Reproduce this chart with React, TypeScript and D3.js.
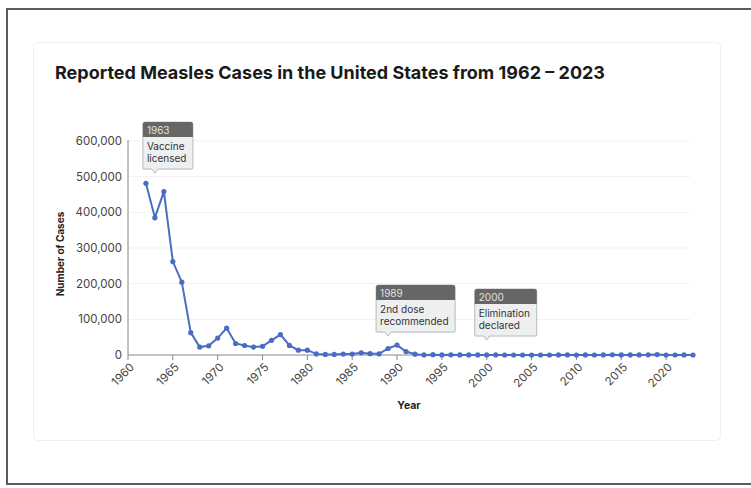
import { useMemo } from "react";
import * as d3 from "d3";

const YEARS = d3.range(1962, 2024);
const CASES = [
  481530, 385156, 458083, 261904, 204136, 62705, 22231, 25826, 47351, 75290,
  32275, 26690, 22094, 24374, 41126, 57345, 26871, 13597, 13506, 3124,
  1714, 1497, 2587, 2822, 6282, 3655, 3396, 18193, 27786, 9643,
  2237, 312, 963, 309, 508, 138, 100, 100, 86, 116,
  44, 56, 37, 66, 55, 43, 140, 71, 63, 220,
  55, 187, 667, 188, 86, 120, 375, 1274, 13, 49,
  121, 59,
];
const X_TICKS = d3.range(1960, 2021, 5);
const Y_TICKS = [0, 100000, 200000, 300000, 400000, 500000, 600000];

const NOTE_YEARS = [1963, 1989, 2000];
const NOTE_VALUES = [510000, 53000, 42000];
const NOTE_LINES = [
  ["Vaccine", "licensed"],
  ["2nd dose", "recommended"],
  ["Elimination", "declared"],
];

const FONT = "Inter, 'Noto Sans', sans-serif";
const W = 751;
const H = 488;
const M = { left: 128, right: 693, top: 141, bottom: 355 };
const LINE_COLOR = "#4a6cc4";

function measure(text: string, font: string): number {
  const c = document.createElement("canvas").getContext("2d");
  if (!c) return text.length * 5.5;
  c.font = font;
  return c.measureText(text).width;
}

export default function App() {
  const x = useMemo(() => d3.scaleLinear().domain([1960, 2023]).range([M.left, M.right]), []);
  const y = useMemo(() => d3.scaleLinear().domain([0, 600000]).range([M.bottom, M.top]), []);
  const fmt = d3.format(",");

  const points = YEARS.map((yr, i) => ({ yr, v: CASES[i] }));
  const line = d3
    .line<{ yr: number; v: number }>()
    .x((d) => x(d.yr))
    .y((d) => y(d.v));

  return (
    <div style={{ position: "fixed", left: 0, top: 0, width: W, height: H, overflow: "hidden" }}>
      <svg width={W} height={H} style={{ display: "block", background: "#fff" }}>
        {/* outer frame */}
        <path d={`M${W + 2},9 H7 V484 H${W + 2}`} fill="none" stroke="#5a5a5a" strokeWidth={2} />

        {/* card */}
        <rect x={33.5} y={42.5} width={687} height={398} rx={4} fill="#fff" stroke="#eef0f2" />

        <text x={55} y={79} fontFamily={FONT} fontSize={18} fontWeight={700} fill="#1a1a1a">
          Reported Measles Cases in the United States from 1962 – 2023
        </text>

        {/* grid */}
        {Y_TICKS.slice(1).map((t) => (
          <line key={t} x1={M.left} x2={M.right - 3} y1={y(t)} y2={y(t)} stroke="#f1f1f1" />
        ))}

        {/* y axis */}
        <line x1={M.left} x2={M.left} y1={M.top - 1} y2={M.bottom} stroke="#888" />
        {Y_TICKS.map((t) => (
          <text
            key={t}
            x={M.left - 6}
            y={y(t)}
            dy="0.35em"
            textAnchor="end"
            fontFamily={FONT}
            fontSize={11.5}
            fill="#444"
          >
            {fmt(t)}
          </text>
        ))}
        <text
          transform={`translate(64,${(M.top + M.bottom) / 2 + 6}) rotate(-90)`}
          textAnchor="middle"
          fontFamily={FONT}
          fontSize={10}
          fontWeight={700}
          fill="#222"
        >
          Number of Cases
        </text>

        {/* x axis */}
        <line x1={M.left} x2={M.right} y1={M.bottom} y2={M.bottom} stroke="#888" />
        {X_TICKS.map((t) => (
          <g key={t} transform={`translate(${x(t)},${M.bottom})`}>
            <line y1={0} y2={5} stroke="#888" />
            <text
              transform="translate(4,10) rotate(-45)"
              textAnchor="end"
              dy="0.35em"
              fontFamily={FONT}
              fontSize={11.5}
              fill="#444"
            >
              {t}
            </text>
          </g>
        ))}
        <text x={409} y={409} textAnchor="middle" fontFamily={FONT} fontSize={10.5} fontWeight={700} fill="#222">
          Year
        </text>

        {/* series */}
        <path d={line(points) ?? ""} fill="none" stroke={LINE_COLOR} strokeWidth={2} />
        {points.map((d) => (
          <circle key={d.yr} cx={x(d.yr)} cy={y(d.v)} r={2.6} fill={LINE_COLOR} />
        ))}

        {/* annotations */}
        {NOTE_YEARS.map((yr, i) => {
          const tx = x(yr);
          const ty = y(NOTE_VALUES[i]);
          const lines = NOTE_LINES[i];
          const bodyFont = `10px ${FONT}`;
          const w = Math.ceil(Math.max(...lines.map((l) => measure(l, bodyFont)), measure(String(yr), bodyFont))) + 10;
          const h = 47;
          const left = tx - 12;
          const top = ty - 4 - h;
          return (
            <g key={yr}>
              <path
                d={`M${left},${top + 2} Q${left},${top} ${left + 2},${top} H${left + w - 2} Q${left + w},${top} ${left + w},${top + 2} V${top + h - 1} Q${left + w},${top + h} ${left + w - 1},${top + h} H${tx + 3} L${tx},${ty} L${tx - 3},${top + h} H${left + 1} Q${left},${top + h} ${left},${top + h - 1} Z`}
                fill="#eeeff0"
                stroke="#b8b8b8"
                strokeWidth={1}
              />
              <path
                d={`M${left},${top + 15} V${top + 2} Q${left},${top} ${left + 2},${top} H${left + w - 2} Q${left + w},${top} ${left + w},${top + 2} V${top + 15} Z`}
                fill="#666"
              />
              <text x={left + 4} y={top + 11.5} fontFamily={FONT} fontSize={10} fill="#e0e0e0">
                {yr}
              </text>
              {lines.map((l, j) => (
                <text key={j} x={left + 4} y={top + 28 + j * 12} fontFamily={FONT} fontSize={10} fill="#333">
                  {l}
                </text>
              ))}
            </g>
          );
        })}
      </svg>
    </div>
  );
}
